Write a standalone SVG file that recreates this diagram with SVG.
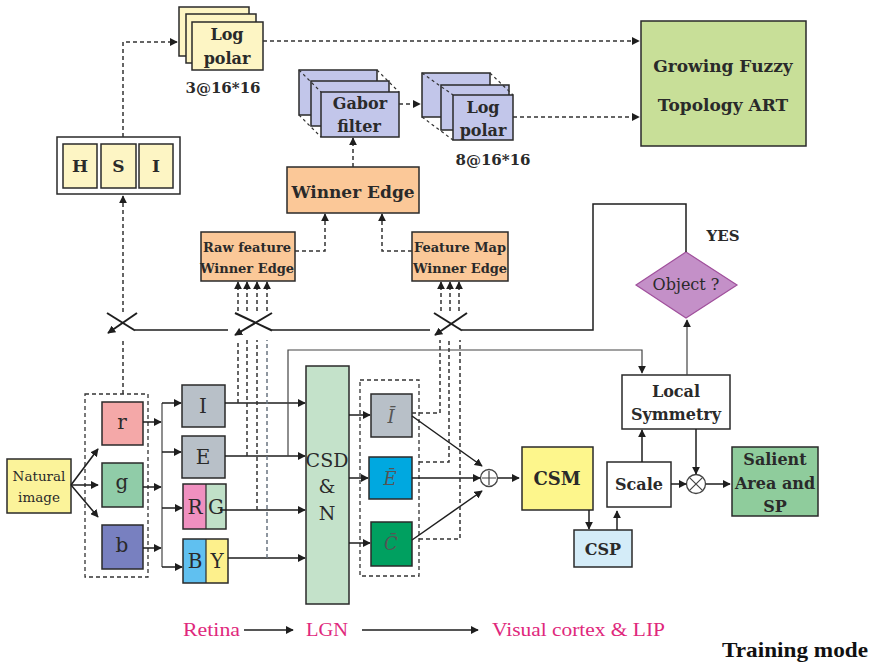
<svg xmlns="http://www.w3.org/2000/svg" width="872" height="663" viewBox="0 0 872 663">
  <defs>
    <marker id="arrS" viewBox="0 0 10 10" refX="9" refY="5" markerWidth="8" markerHeight="8" markerUnits="userSpaceOnUse" orient="auto">
      <path d="M0,0 L10,5 L0,10 z" fill="#1e1e1e"/>
    </marker>
  </defs>
  <style>
    .box { stroke: #2a2a2a; stroke-width: 1.5; }
    .t { font-family: "DejaVu Serif", "Liberation Serif", serif; font-weight: bold; fill: #2a2a2a; text-anchor: middle; }
    .tr { font-family: "DejaVu Serif", "Liberation Serif", serif; fill: #2a2a2a; text-anchor: middle; }
    .ti { font-family: "DejaVu Serif", "Liberation Serif", serif; font-style: italic; fill: #555; text-anchor: middle; }
    .ln { fill: none; stroke: #1e1e1e; stroke-width: 1.5; }
    .thin { fill: none; stroke: #444; stroke-width: 1.2; }
    .dash { fill: none; stroke: #333; stroke-width: 1.5; stroke-dasharray: 4 3; }
    .dashg { fill: none; stroke: #6a7480; stroke-width: 1.5; stroke-dasharray: 4 3; }
    .persp { fill: none; stroke: #333; stroke-width: 1.2; stroke-dasharray: 3 3; }
    .pink { font-family: "Liberation Serif", serif; fill: #e0287c; font-size: 19px; }
    .sw { fill: none; stroke: #1e1e1e; stroke-width: 2; }
  </style>

  <!-- Log polar stack (HSI branch) -->
  <g id="logpolar1">
    <rect class="box" x="179" y="7" width="70" height="49" fill="#fdf5c4"/>
    <rect class="box" x="186" y="14" width="70" height="49" fill="#fdf5c4"/>
    <rect class="box" x="192" y="22" width="71" height="48" fill="#fdf5c4"/>
    <text class="t" x="227" y="40" font-size="16">Log</text>
    <text class="t" x="227" y="64" font-size="16">polar</text>
    <text class="t" x="223" y="93" font-size="15" fill="#3a3a3a">3@16*16</text>
  </g>

  <!-- HSI -->
  <g id="hsi">
    <rect class="box" x="57" y="137" width="123" height="57" fill="#ffffff"/>
    <rect class="box" x="63" y="144" width="34" height="44" fill="#fdf5c4"/>
    <rect class="box" x="101" y="144" width="35" height="44" fill="#fdf5c4"/>
    <rect class="box" x="139" y="144" width="34" height="44" fill="#fdf5c4"/>
    <text class="t" x="80" y="172" font-size="17">H</text>
    <text class="t" x="118.5" y="172" font-size="17">S</text>
    <text class="t" x="156" y="172" font-size="17">I</text>
  </g>

  <!-- Gabor filter stack -->
  <g id="gabor">
    <rect class="box" x="299" y="70" width="78" height="45" fill="#c2c6ea"/>
    <rect class="box" x="311" y="81" width="78" height="45" fill="#c2c6ea"/>
    <rect class="box" x="321" y="92" width="78" height="45" fill="#c2c6ea"/>
    <path class="persp" d="M299,70 L321,92 M377,70 L399,92 M299,115 L321,137"/>
    <text class="t" x="360" y="109" font-size="16">Gabor</text>
    <text class="t" x="359" y="132" font-size="16">filter</text>
  </g>

  <!-- Log polar stack (edge branch) -->
  <g id="logpolar2">
    <rect class="box" x="422" y="73" width="68" height="44" fill="#c2c6ea"/>
    <rect class="box" x="441" y="85" width="68" height="45" fill="#c2c6ea"/>
    <rect class="box" x="453" y="95" width="60" height="45" fill="#c2c6ea"/>
    <path class="persp" d="M422,73 L453,95 M490,73 L513,95 M422,117 L453,140"/>
    <text class="t" x="483" y="113" font-size="16">Log</text>
    <text class="t" x="483" y="136" font-size="16">polar</text>
    <text class="t" x="493" y="165" font-size="15" fill="#3a3a3a">8@16*16</text>
  </g>

  <!-- Growing Fuzzy Topology ART -->
  <g id="gfta">
    <rect class="box" x="641" y="21" width="165" height="125" fill="#c8df98" stroke="#555"/>
    <text class="t" x="723" y="72" font-size="17">Growing Fuzzy</text>
    <text class="t" x="723" y="111" font-size="17">Topology ART</text>
  </g>

  <!-- Winner Edge -->
  <g id="winner">
    <rect class="box" x="287" y="167" width="132" height="46" fill="#fbc898"/>
    <text class="t" x="353" y="198" font-size="17">Winner Edge</text>
  </g>
  <g id="rawwinner">
    <rect class="box" x="201" y="232" width="94" height="49" fill="#fbc898"/>
    <text class="t" x="247" y="252" font-size="13">Raw feature</text>
    <text class="t" x="247" y="273" font-size="13">Winner Edge</text>
  </g>
  <g id="mapwinner">
    <rect class="box" x="412" y="232" width="96" height="49" fill="#fbc898"/>
    <text class="t" x="460" y="252" font-size="13">Feature Map</text>
    <text class="t" x="460" y="273" font-size="13">Winner Edge</text>
  </g>

  <!-- Natural image and r g b -->
  <g id="natural">
    <rect class="box" x="7" y="459" width="64" height="54" fill="#fbf39a"/>
    <text class="tr" x="39" y="481" font-size="13.5">Natural</text>
    <text class="tr" x="39" y="502" font-size="13.5">image</text>
  </g>
  <g id="rgb">
    <rect x="85" y="394" width="63" height="183" fill="none" stroke="#333" stroke-width="1.3" stroke-dasharray="4 3"/>
    <rect class="box" x="102" y="402" width="41" height="43" fill="#f4a8a8"/>
    <rect class="box" x="102" y="463" width="41" height="44" fill="#90cca8"/>
    <rect class="box" x="102" y="525" width="41" height="44" fill="#7880c0"/>
    <text class="tr" x="122" y="429" font-size="20">r</text>
    <text class="tr" x="122" y="489" font-size="20">g</text>
    <text class="tr" x="122" y="552" font-size="20">b</text>
  </g>

  <!-- Channels I E RG BY -->
  <g id="chanI">
    <rect class="box" x="182" y="385" width="43" height="42" fill="#b8c0c8"/>
    <text class="tr" x="203" y="413" font-size="20">I</text>
  </g>
  <g id="chanE">
    <rect class="box" x="182" y="436" width="43" height="42" fill="#b8c0c8"/>
    <text class="tr" x="203" y="464" font-size="20">E</text>
  </g>
  <g id="chanRG">
    <rect x="183" y="484" width="23" height="45" fill="#f090c0"/>
    <rect x="206" y="484" width="20" height="45" fill="#c0e0c8"/>
    <rect class="box" x="183" y="484" width="43" height="45" fill="none"/>
    <line x1="206" y1="484" x2="206" y2="529" stroke="#2a2a2a" stroke-width="1.2"/>
    <text class="tr" x="195" y="514" font-size="20">R</text>
    <text class="tr" x="216" y="514" font-size="20" fill="#4a5a4a">G</text>
  </g>
  <g id="chanBY">
    <rect x="183" y="539" width="23" height="44" fill="#60c0f0"/>
    <rect x="206" y="539" width="22" height="44" fill="#fdf08c"/>
    <rect class="box" x="183" y="539" width="45" height="44" fill="none"/>
    <line x1="206" y1="539" x2="206" y2="583" stroke="#2a2a2a" stroke-width="1.2"/>
    <text class="tr" x="195" y="568" font-size="20">B</text>
    <text class="tr" x="217" y="568" font-size="20">Y</text>
  </g>

  <!-- CSD & N -->
  <g id="csdn">
    <rect class="box" x="306" y="366" width="43" height="238" fill="#c4e2ca"/>
    <text class="tr" x="327" y="467" font-size="19" fill="#3a5a48">CSD</text>
    <text class="tr" x="327" y="493" font-size="19" fill="#3a5a48">&amp;</text>
    <text class="tr" x="327" y="520" font-size="19" fill="#3a5a48">N</text>
  </g>

  <!-- Feature maps -->
  <g id="maps">
    <rect x="360" y="380" width="59" height="196" fill="none" stroke="#333" stroke-width="1.3" stroke-dasharray="4 3"/>
    <rect class="box" x="371" y="394" width="41" height="43" fill="#b8c0c8"/>
    <rect class="box" x="369" y="457" width="43" height="42" fill="#00a8e0"/>
    <rect class="box" x="371" y="522" width="41" height="44" fill="#00a060"/>
    <text class="ti" x="391" y="423" font-size="18">Ī</text>
    <text class="ti" x="390" y="485" font-size="18" fill="#2a3a50">Ē</text>
    <text class="ti" x="391" y="550" font-size="18">C̄</text>
  </g>

  <!-- Combination -->
  <g id="sum">
    <circle cx="489" cy="478" r="8.5" fill="#fff" stroke="#444" stroke-width="1.3"/>
    <path d="M489,471 V485 M482,478 H496" stroke="#444" stroke-width="1.2"/>
  </g>
  <g id="csm">
    <rect class="box" x="522" y="447" width="71" height="63" fill="#fdf68c"/>
    <text class="tr" x="557" y="485" font-size="18" font-weight="600">CSM</text>
  </g>
  <g id="csp">
    <rect class="box" x="574" y="530" width="58" height="37" fill="#d4ecf8"/>
    <text class="tr" x="603" y="555" font-size="16" font-weight="600">CSP</text>
  </g>
  <g id="scale">
    <rect class="box" x="607" y="462" width="64" height="45" fill="#fff"/>
    <text class="t" x="639" y="490" font-size="16">Scale</text>
  </g>
  <g id="localsym">
    <rect class="box" x="622" y="375" width="108" height="54" fill="#fff"/>
    <text class="t" x="676" y="397" font-size="16">Local</text>
    <text class="t" x="676" y="420" font-size="16">Symmetry</text>
  </g>
  <g id="mult">
    <circle cx="696" cy="484" r="9.5" fill="#fff" stroke="#444" stroke-width="1.3"/>
    <path d="M689.3,477.3 L702.7,490.7 M702.7,477.3 L689.3,490.7" stroke="#444" stroke-width="1.2"/>
  </g>
  <g id="salient">
    <rect class="box" x="732" y="447" width="86" height="69" fill="#8fcc9c"/>
    <text class="t" x="775" y="465" font-size="16">Salient</text>
    <text class="t" x="775" y="489" font-size="16">Area and</text>
    <text class="t" x="775" y="512" font-size="16">SP</text>
  </g>
  <g id="object">
    <polygon points="686,252 737,285 686,318 636,285" fill="#c490c8" stroke="#a0509c" stroke-width="1.2"/>
    <text class="tr" x="686" y="290" font-size="16" fill="#2a2a3a">Object ?</text>
    <text class="t" x="723" y="241" font-size="15">YES</text>
  </g>

  <!-- Connectors -->
  <g id="connectors">
    <!-- input fan-out -->
    <path class="ln" d="M71,485 L98,449" marker-end="url(#arrS)"/>
    <path class="ln" d="M71,485 L98,485" marker-end="url(#arrS)"/>
    <path class="ln" d="M71,485 L98,517" marker-end="url(#arrS)"/>
    <path class="ln" d="M143,422 L161,422" marker-end="url(#arrS)"/>
    <path class="ln" d="M143,487 L161,487" marker-end="url(#arrS)"/>
    <path class="ln" d="M143,548 L161,548" marker-end="url(#arrS)"/>
    <path class="thin" d="M162,403 V567"/>
    <path class="ln" d="M162,403 H181" marker-end="url(#arrS)"/>
    <path class="ln" d="M162,452 H181" marker-end="url(#arrS)"/>
    <path class="ln" d="M162,508 H182" marker-end="url(#arrS)"/>
    <path class="ln" d="M162,567 H182" marker-end="url(#arrS)"/>

    <!-- channels to CSD&N -->
    <path class="ln" d="M225,403 H305" marker-end="url(#arrS)"/>
    <path class="ln" d="M225,456 H305" marker-end="url(#arrS)"/>
    <path class="ln" d="M220,510 H305" marker-end="url(#arrS)"/>
    <path class="ln" d="M228,558 H305" marker-end="url(#arrS)"/>

    <!-- branch to Local Symmetry -->
    <path class="thin" d="M288,456 V350 H642 V373" marker-end="url(#arrS)"/>

    <!-- CSD&N to feature maps -->
    <path class="ln" d="M349,415 H370" marker-end="url(#arrS)"/>
    <path class="ln" d="M349,478 H368" marker-end="url(#arrS)"/>
    <path class="ln" d="M349,543 H370" marker-end="url(#arrS)"/>

    <!-- maps to sum -->
    <path class="ln" d="M412,416 L482,466" marker-end="url(#arrS)"/>
    <path class="ln" d="M412,478 L480,478" marker-end="url(#arrS)"/>
    <path class="ln" d="M412,540 L482,491" marker-end="url(#arrS)"/>
    <path class="ln" d="M498,478 H519" marker-end="url(#arrS)"/>

    <!-- saliency chain -->
    <path class="ln" d="M589,510 V529" marker-end="url(#arrS)"/>
    <path class="ln" d="M617,530 V511" marker-end="url(#arrS)"/>
    <path class="ln" d="M642,462 V430" marker-end="url(#arrS)"/>
    <path class="ln" d="M671,484 H686" marker-end="url(#arrS)"/>
    <path class="ln" d="M696,429 V474" marker-end="url(#arrS)"/>
    <path class="ln" d="M706,484 H730" marker-end="url(#arrS)"/>
    <path class="thin" d="M687,375 V320" marker-end="url(#arrS)"/>

    <!-- YES feedback to switches -->
    <path class="ln" d="M686,252 V204 H593 V330 H462"/>
    <path class="ln" d="M430,330 H272"/>
    <path class="ln" d="M228,330 H135"/>

    <!-- switches -->
    <path class="sw" d="M107,313 L135,330.5"/>
    <path class="sw" d="M137,313 L108,333" marker-end="url(#arrS)"/>
    <path class="sw" d="M235,313 L272,330.5"/>
    <path class="sw" d="M272,313 L235,335" marker-end="url(#arrS)"/>
    <path class="sw" d="M434,313 L462,330.5"/>
    <path class="sw" d="M467,313 L435,335" marker-end="url(#arrS)"/>

    <!-- HSI / log polar branch -->
    <path class="dash" d="M123,394 V341"/>
    <path class="dash" d="M123,312 V196" marker-end="url(#arrS)"/>
    <path class="dash" d="M123,137 V42 H177" marker-end="url(#arrS)"/>
    <path class="dash" d="M263,41 H639" marker-end="url(#arrS)"/>

    <!-- raw feature dashed taps -->
    <path class="dash" d="M238,403 V340"/>
    <path class="dash" d="M247,456 V340"/>
    <path class="dash" d="M257,510 V340"/>
    <path class="dashg" d="M267,558 V340"/>
    <path class="dash" d="M238,311 V282" marker-end="url(#arrS)"/>
    <path class="dash" d="M247,311 V282" marker-end="url(#arrS)"/>
    <path class="dash" d="M257,311 V282" marker-end="url(#arrS)"/>
    <path class="dash" d="M267,311 V282" marker-end="url(#arrS)"/>

    <!-- feature map dashed taps -->
    <path class="dash" d="M412,413 H440 V340"/>
    <path class="dash" d="M419,462 H449 V340"/>
    <path class="dash" d="M419,539 H460 V340"/>
    <path class="dash" d="M441,311 V282" marker-end="url(#arrS)"/>
    <path class="dash" d="M450,311 V282" marker-end="url(#arrS)"/>
    <path class="dash" d="M459,311 V282" marker-end="url(#arrS)"/>

    <!-- winner edge selection -->
    <path class="dash" d="M295,251 H325 V214" marker-end="url(#arrS)"/>
    <path class="dash" d="M412,251 H382 V214" marker-end="url(#arrS)"/>
    <path class="dash" d="M353,167 V138" marker-end="url(#arrS)"/>
    <path class="dash" d="M399,104 H420" marker-end="url(#arrS)"/>
    <path class="dash" d="M513,117 H639" marker-end="url(#arrS)"/>
  </g>

  <!-- pathway legend -->
  <g id="legend">
    <text class="pink" x="183" y="636" textLength="57" lengthAdjust="spacingAndGlyphs">Retina</text>
    <path class="ln" d="M244,630 H293" marker-end="url(#arrS)"/>
    <text class="pink" x="306" y="636" textLength="42" lengthAdjust="spacingAndGlyphs">LGN</text>
    <path class="ln" d="M362,630 H478" marker-end="url(#arrS)"/>
    <text class="pink" x="492" y="636" textLength="173" lengthAdjust="spacingAndGlyphs">Visual cortex &amp; LIP</text>
    <text x="722" y="657" font-family="Liberation Serif, serif" font-weight="bold" font-size="21" fill="#111" textLength="146" lengthAdjust="spacingAndGlyphs">Training mode</text>
  </g>
</svg>
